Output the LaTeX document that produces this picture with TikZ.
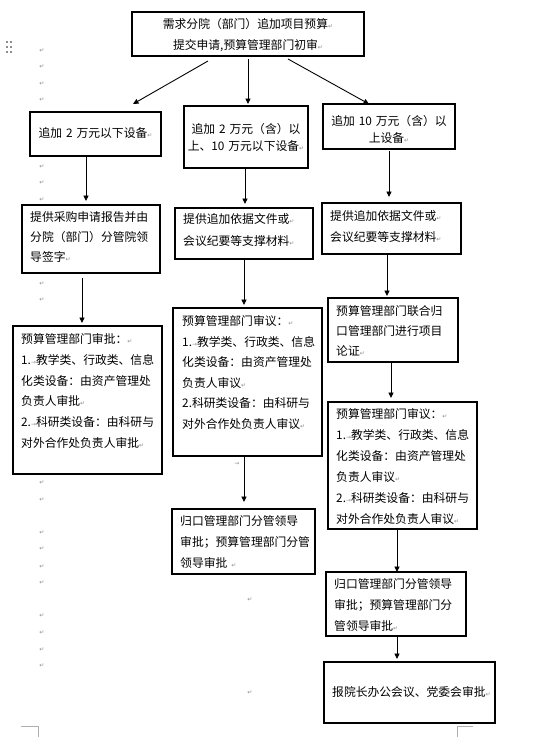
\documentclass[tikz,border=0pt]{standalone}
\usepackage{fontspec}
\newfontfamily\cjk{Noto Sans CJK SC}
\newfontfamily\djv{DejaVu Sans}
\usetikzlibrary{arrows.meta,calc}
\definecolor{pmgray}{RGB}{140,140,140}
\definecolor{cropgray}{RGB}{175,175,175}
\newcommand\pmk{{\djv\fontsize{6}{6}\selectfont\textcolor{pmgray}{↵}}}
\newcommand\tbm{{\djv\fontsize{6}{6}\selectfont\textcolor{pmgray}{→}}}
\begin{document}
\begin{tikzpicture}[x=1pt,y=-1pt,
 box/.style={draw, line width=1.1pt, anchor=north west, inner sep=0pt, outer sep=0pt},
 txt/.style={font=\cjk\fontsize{11.8}{#1}\selectfont, inner sep=0pt, text width=220pt, align=left, anchor=base west},
 txt/.default=21,
 ctxt/.style={font=\cjk\fontsize{11.8}{#1}\selectfont, inner sep=0pt, text width=220pt, align=center, anchor=base},
 ctxt/.default=21,
 arr/.style={line width=0.9pt, -{Triangle[length=5.5pt,width=5pt]}},
 pm/.style={font=\djv\fontsize{6}{6}\selectfont, text=pmgray, inner sep=0pt}]
\useasboundingbox (0,0) rectangle (554,737);

% boxes
\node[box, minimum width=232pt, minimum height=44pt] (T) at (132,12) {};
\node[box, minimum width=131pt, minimum height=44pt] (A1) at (30,112) {};
\node[box, minimum width=124pt, minimum height=62pt] (B1) at (184,106) {};
\node[box, minimum width=132pt, minimum height=45pt] (C1) at (323,104) {};
\node[box, minimum width=138pt, minimum height=68pt] (A2) at (22,205) {};
\node[box, minimum width=138pt, minimum height=51pt] (B2) at (175,208) {};
\node[box, minimum width=139pt, minimum height=51pt] (C2) at (322,203) {};
\node[box, minimum width=149pt, minimum height=148pt] (A3) at (13,326) {};
\node[box, minimum width=149pt, minimum height=148pt] (B3) at (173,308) {};
\node[box, minimum width=130pt, minimum height=64pt] (C3) at (328,298) {};
\node[box, minimum width=149pt, minimum height=127pt] (C4) at (328,402) {};
\node[box, minimum width=143pt, minimum height=65pt] (B4) at (172,509) {};
\node[box, minimum width=140pt, minimum height=64pt] (C5) at (326,572) {};
\node[box, minimum width=171pt, minimum height=61pt] (C6) at (324,662) {};

% texts
\node[ctxt=21] (Tt) at (248,28.5) {需求分院（部门）追加项目预算\pmk\\提交申请,预算管理部门初审\pmk};
\node[ctxt] (A1t) at (95.5,137.5) {追加 2 万元以下设备\pmk};
\node[ctxt=17] (B1t) at (246,133.5) {追加 2 万元（含）以\\上、10 万元以下设备\pmk};
\node[ctxt=17] (C1t) at (389,125.5) {追加 10 万元（含）以\\上设备\pmk};
\node[txt=20] (A2t) at (30,221.5) {提供采购申请报告并由\\分院（部门）分管院领\\导签字\pmk};
\node[txt=22] (B2t) at (183,223.5) {提供追加依据文件或\pmk\\会议纪要等支撑材料\pmk};
\node[txt=21] (C2t) at (330,220.5) {提供追加依据文件或\pmk\\会议纪要等支撑材料\pmk};
\node[txt=20.8] (A3t) at (21,343.5) {预算管理部门审批：\pmk\\1.\tbm 教学类、行政类、信息\\化类设备：由资产管理处\\负责人审批\pmk\\2.\tbm 科研类设备：由科研与\\对外合作处负责人审批\pmk};
\node[txt=20.6] (B3t) at (182,325.5) {预算管理部门审议：\pmk\\1.\tbm 教学类、行政类、信息\\化类设备：由资产管理处\\负责人审议\pmk\\2.科研类设备：由科研与\\对外合作处负责人审议\pmk};
\node[txt=20] (C3t) at (336,315.5) {预算管理部门联合归\\口管理部门进行项目\\论证\pmk};
\node[txt=21] (C4t) at (336,418.5) {预算管理部门审议：\pmk\\1.\tbm 教学类、行政类、信息\\化类设备：由资产管理处\\负责人审议\pmk\\2.\tbm 科研类设备：由科研与\\对外合作处负责人审议\pmk};
\node[txt=21] (B4t) at (180,525.5) {归口管理部门分管领导\\审批；预算管理部门分管\\领导审批 \pmk};
\node[txt=21] (C5t) at (334,588.5) {归口管理部门分管领导\\审批；预算管理部门分\\管领导审批\pmk};
\node[txt] (C6t) at (332,696.5) {报院长办公会议、党委会审批\pmk};

% connectors
\draw[arr] ($(T.south west)+(76,5)$) -- ($(A1.north west)+(103,-8)$);
\draw[arr] ($(T.south west)+(116,3)$) -- ($(B1.north west)+(64,-2)$);
\draw[arr] ($(T.south west)+(156,3)$) -- ($(C1.north west)+(46,0)$);

\coordinate (xa1) at (86,0);
\coordinate (xa2) at (82,0);
\coordinate (xb1) at (245,0);
\coordinate (xb2) at (244,0);
\coordinate (xc1) at (389,0);
\coordinate (xc2) at (387,0);
\coordinate (xc3) at (391,0);
\coordinate (xc4) at (397,0);

\draw[arr, shorten >=4pt] (A1.south -| xa1) -- (A2.north -| xa1);
\draw[arr, shorten <=5pt, shorten >=3pt] (A2.south -| xa2) -- (A3.north -| xa2);
\draw[arr, shorten >=4pt] (B1.south -| xb1) -- (B2.north -| xb1);
\draw[arr, shorten >=3pt] (B2.south -| xb2) -- (B3.north -| xb2);
\draw[arr, shorten >=7pt] (B3.south -| xb2) -- (B4.north -| xb2);
\draw[arr, shorten <=2pt, shorten >=6pt] (C1.south -| xc1) -- (C2.north -| xc1);
\draw[arr, shorten >=2pt] (C2.south -| xc2) -- (C3.north -| xc2);
\draw[arr, shorten >=4pt] (C3.south -| xc3) -- (C4.north -| xc3);
\draw[arr] (C4.south -| xc4) -- (C5.north -| xc4);
\draw[arr, shorten >=3pt] (C5.south -| xc4) -- (C6.north -| xc4);

% paragraph marks outside boxes
\foreach \y [count=\i] in {51,67,84,100,167,183,200,284,300,483,500,533,549,567,583,616,633,650,666}
  \node[pm] (pmL\i) at (42,\y) {↵};
\node[pm] (pmM1) at (250,600) {↵};
\node[pm] (pmM2) at (250,693) {↵};
\node[pm] (tbM) at (237,464) {→};

% drag handle
\foreach \x in {7,11} \foreach \y in {42,47,52}
  \fill[pmgray] (\x-1,\y-1) rectangle (\x+1,\y+1);

% crop marks
\draw[cropgray, line width=0.8pt] (21,726) -- (38,726) -- (38,737);
\draw[cropgray, line width=0.8pt] (457,737) -- (457,726) -- (473,726);
\end{tikzpicture}
\end{document}
